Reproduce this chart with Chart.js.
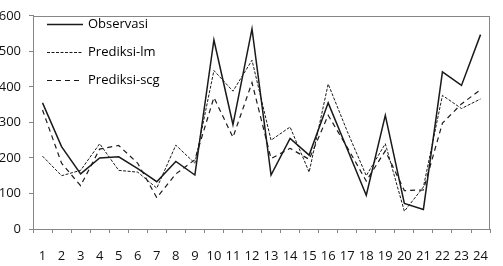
<!DOCTYPE html>
<html>
<head>
<meta charset="utf-8">
<script src="https://cdn.jsdelivr.net/npm/chart.js@4/dist/chart.umd.min.js"></script>
<style>
  html, body { margin: 0; padding: 0; background: #fff; overflow: hidden; }
  #wrap { position: absolute; left: 0; top: 0; width: 503px; height: 266px; }
</style>
</head>
<body>
<div id="wrap"><canvas id="grafik"></canvas></div>
<script>
// Data
const bulan = ['1','2','3','4','5','6','7','8','9','10','11','12','13','14','15','16','17','18','19','20','21','22','23','24'];
const observasi = [355, 232, 155, 200, 203, 170, 133, 190, 152, 532, 294, 563, 152, 255, 208, 355, 225, 95, 320, 72, 55, 442, 404, 547];
const prediksiLm = [205, 150, 165, 240, 165, 160, 115, 236, 185, 446, 388, 475, 250, 287, 160, 408, 275, 150, 240, 50, 118, 376, 339, 366];
const prediksiScg = [335, 185, 122, 225, 235, 185, 88, 155, 195, 370, 258, 412, 198, 227, 196, 320, 230, 135, 220, 108, 110, 298, 352, 392];

const abu = '#868686';
const huruf = '"Open Sans", "Liberation Sans", sans-serif';

// Legenda di dalam area grafik + bingkai kotak
const legendaDalam = {
    id: 'legendaDalam',
    afterDraw(chart) {
        const ctx = chart.ctx;
        const area = chart.chartArea;
        ctx.save();
        ctx.strokeStyle = abu;
        ctx.lineWidth = 1;
        ctx.strokeRect(Math.round(area.left) + 0.5, Math.round(area.top) + 0.5,
            Math.round(area.right - area.left) - 1, Math.round(area.bottom - area.top));

        const barisY = [24, 52, 80];
        chart.data.datasets.forEach((ds, i) => {
            const y = barisY[i] + 0.5;
            ctx.beginPath();
            ctx.setLineDash(ds.borderDash || []);
            ctx.strokeStyle = ds.borderColor;
            ctx.lineWidth = ds.borderWidth;
            ctx.moveTo(47, y);
            ctx.lineTo(83, y);
            ctx.stroke();
            ctx.setLineDash([]);
            ctx.fillStyle = '#000';
            ctx.font = '13px ' + huruf;
            ctx.textBaseline = 'middle';
            ctx.fillText(ds.label, 88, y);
        });
        ctx.restore();
    }
};

new Chart(document.getElementById('grafik'), {
    type: 'line',
    data: {
        labels: bulan,
        datasets: [
            {
                label: 'Observasi',
                data: observasi,
                borderColor: '#1a1a1a',
                borderWidth: 1.5,
                pointRadius: 0,
                tension: 0,
                fill: false
            },
            {
                label: 'Prediksi-lm',
                data: prediksiLm,
                borderColor: '#1a1a1a',
                borderWidth: 1,
                borderDash: [3, 1.5],
                pointRadius: 0,
                tension: 0,
                fill: false
            },
            {
                label: 'Prediksi-scg',
                data: prediksiScg,
                borderColor: '#1a1a1a',
                borderWidth: 1.2,
                borderDash: [5, 4],
                pointRadius: 0,
                tension: 0,
                fill: false
            }
        ]
    },
    options: {
        responsive: true,
        maintainAspectRatio: false,
        animation: false,
        layout: { padding: { top: 6, right: 2, bottom: 0, left: 0 } },
        plugins: {
            legend: { display: false },
            tooltip: { enabled: false }
        },
        scales: {
            x: {
                offset: true,
                afterFit: (s) => { s.height = 37; },
                grid: {
                    offset: true,
                    drawOnChartArea: false,
                    drawTicks: true,
                    tickLength: 4,
                    color: abu
                },
                border: { color: abu, width: 1 },
                ticks: {
                    color: '#111',
                    padding: 15,
                    maxRotation: 0,
                    autoSkip: false,
                    font: { family: huruf, size: 13 }
                }
            },
            y: {
                min: 0,
                max: 600,
                afterFit: (s) => { s.width = 33; },
                grid: {
                    drawOnChartArea: false,
                    drawTicks: true,
                    tickLength: 4,
                    color: abu
                },
                border: { color: abu, width: 1 },
                ticks: {
                    stepSize: 100,
                    color: '#111',
                    padding: 8,
                    font: { family: huruf, size: 13 }
                }
            }
        }
    },
    plugins: [legendaDalam]
});
</script>
</body>
</html>
